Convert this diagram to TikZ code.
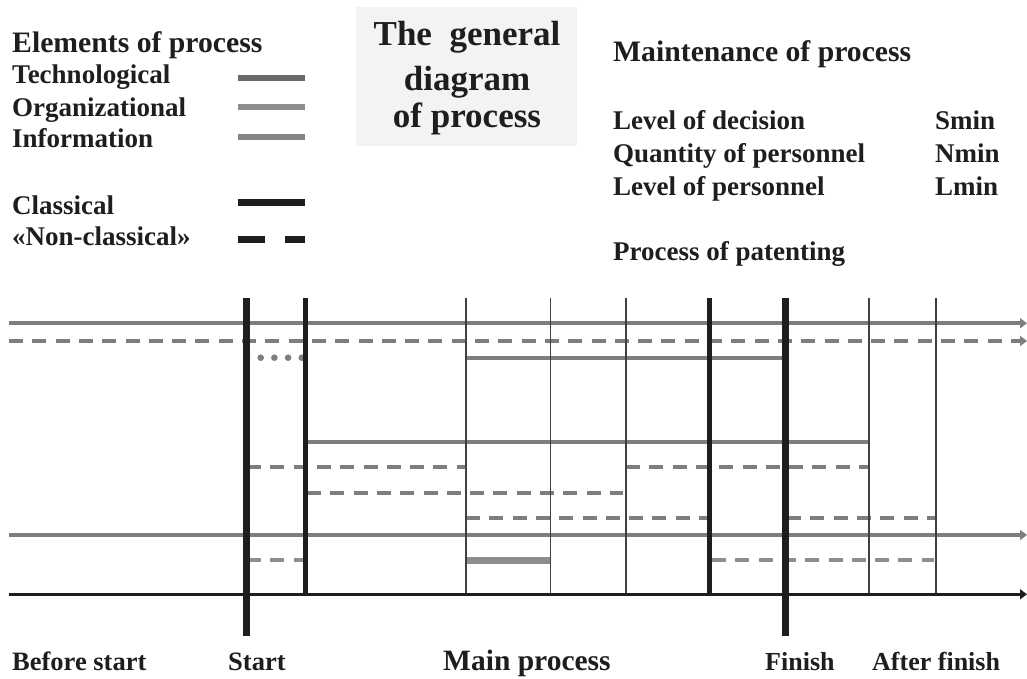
\documentclass[tikz,border=0pt]{standalone}
\usepackage{fontspec}
\setmainfont{Liberation Serif}
\usetikzlibrary{arrows.meta}
\definecolor{gline}{HTML}{7E7E7E}
\definecolor{gdark}{HTML}{696969}
\definecolor{glight}{HTML}{8E8E8E}
\definecolor{boxfill}{HTML}{F3F3F3}
\definecolor{ink}{HTML}{1E1E1E}
\begin{document}
\begin{tikzpicture}[x=1pt,y=-1pt,
  lbl/.style={anchor=base west,inner sep=0pt,font=\fontsize{27}{27}\selectfont\bfseries,text=ink},
  hdr/.style={lbl,font=\fontsize{29.7}{30}\selectfont\bfseries},
  ttl/.style={anchor=base,inner sep=0pt,font=\fontsize{35}{35}\selectfont\bfseries,text=ink},
  grayline/.style={draw=gline,line width=4pt},
  graydash/.style={grayline,dash pattern=on 14pt off 9.3pt},
  lightdash/.style={graydash,draw=glight},
  tip/.style={-{Triangle[length=7pt,width=10pt]}},
  thickv/.style={draw=ink,line width=7pt},
  midv/.style={draw=ink,line width=4.8pt},
  thinv/.style={draw=ink!85,line width=1.6pt},
  legend/.style={line width=6.5pt},
  dotmark/.style={fill=gline}
]
\useasboundingbox (0,0) rectangle (1027,679);

% ---- title box ----
\fill[boxfill] (356,7) rectangle (577,146);
\node[ttl] (t1) at (467,46) {The\ \ general};
\node[ttl] (t2) at (467,91) {diagram};
\node[ttl] (t3) at (467,128) {of process};

% ---- legend: elements of process ----
\node[hdr] (elh) at (12,53) {Elements of process};
\node[lbl] (tech) at (12,84) {Technological};
\node[lbl] (org) at (12,116.5) {Organizational};
\node[lbl] (inf) at (12,148) {Information};
\node[lbl] (cls) at (12,214) {Classical};
\node[lbl] (ncl) at (12,245) {«Non-classical»};
\draw[legend,draw=gdark] (238,78) -- (305,78);
\draw[legend,draw=glight] (238,107) -- (305,107);
\draw[legend,draw=gline!95] (238,137) -- (305,137);
\draw[legend,line width=7pt,draw=ink] (238,202) -- (305,202);
\draw[legend,line width=7pt,draw=ink,dash pattern=on 27pt off 20pt] (238,239) -- (305,239);

% ---- maintenance of process ----
\node[hdr] (mh) at (613,62) {Maintenance of process};
\node[lbl] (m1) at (613,130) {Level of decision};
\node[lbl] (m2) at (613,163) {Quantity of personnel};
\node[lbl] (m3) at (613,195) {Level of personnel};
\node[lbl] (s1) at (935,130) {Smin};
\node[lbl] (s2) at (935,163) {Nmin};
\node[lbl] (s3) at (935,195) {Lmin};
\node[lbl] (pp) at (613,260) {Process of patenting};

% ---- horizontal process lines ----
\coordinate (L0) at (9,323.3);   \coordinate (R0) at (1027,323.3);
\coordinate (L1) at (9,341);     \coordinate (R1) at (1027,341);
\coordinate (L2) at (9,535);     \coordinate (R2) at (1027,535);
\draw[grayline,tip] (L0) -- (R0);
\draw[graydash,tip] (L1) -- (R1);
\draw[grayline,tip] (L2) -- (R2);

\draw[grayline] (466,357.7) -- (785,357.7);
\draw[grayline] (307,442.3) -- (869,442.3);
\draw[graydash] (247,467.3) -- (466,467.3);
\draw[graydash] (626,467.3) -- (869,467.3);
\draw[graydash] (307,492.7) -- (623,492.7);
\draw[graydash] (466,518.3) -- (709,518.3);
\draw[graydash] (787,518.3) -- (936,518.3);
\draw[lightdash] (247,560.3) -- (305,560.3);
\draw[lightdash] (712,560.3) -- (934,560.3);
\draw[draw=glight,line width=7pt] (466,560.3) -- (550,560.3);
% dotted link between start and the first boundary
\foreach \dx in {247,260.7,274.4,288.1,301.8}
  \fill[dotmark] (\dx,357.7) circle[radius=3.3pt];

% ---- stage boundaries ----
\draw[thinv] (466,298) -- (466,594);
\draw[thinv] (550.3,298) -- (550.3,594);
\draw[thinv] (625.7,298) -- (625.7,594);
\draw[thinv] (869,298) -- (869,594);
\draw[thinv] (935.7,298) -- (935.7,594);
\draw[midv] (305.8,298) -- (305.8,594);
\draw[midv] (709.5,298) -- (709.5,594);
\draw[thickv] (246.7,298) -- (246.7,636);
\draw[thickv] (785,298) -- (785,636);

% ---- time axis ----
\coordinate (A0) at (9,594.3); \coordinate (A1) at (1027,594.3);
\draw[draw=ink,line width=3.5pt,tip] (A0) -- (A1);

% ---- stage labels ----
\node[lbl,font=\fontsize{26.5}{27}\selectfont\bfseries] (b1) at (12,670) {Before start};
\node[lbl,font=\fontsize{26.5}{27}\selectfont\bfseries] (b2) at (228,670) {Start};
\node[lbl,font=\fontsize{29.5}{30}\selectfont\bfseries] (b3) at (443,670) {Main process};
\node[lbl,font=\fontsize{26}{27}\selectfont\bfseries] (b4) at (765,670) {Finish};
\node[lbl,font=\fontsize{26}{27}\selectfont\bfseries] (b5) at (872,670) {After finish};
\end{tikzpicture}
\end{document}
